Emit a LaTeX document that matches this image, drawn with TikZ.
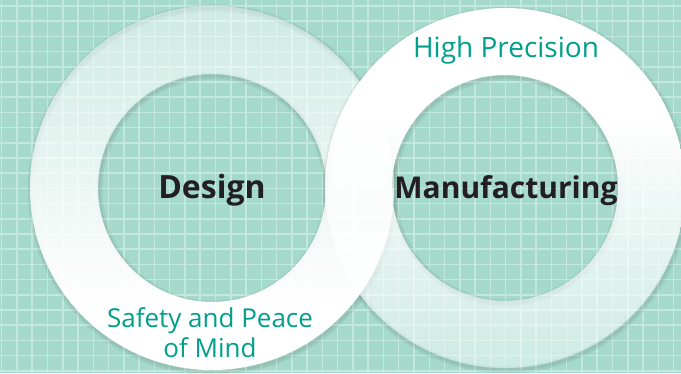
\documentclass[tikz,border=0pt]{standalone}
\usepackage{fontspec}
\setmainfont{Open Sans}

\definecolor{mint}{HTML}{A5DACB}
\definecolor{mintline}{HTML}{C3E9DE}
\definecolor{tealtext}{HTML}{00A08C}
\definecolor{inkdark}{HTML}{231F20}

\begin{document}
\begin{tikzpicture}[x=1pt, y=1pt,
    gridline/.style={mintline, line width=1.5pt},
    ringshadow/.style={black, opacity=0.05, line width=#1},
    title/.style={font=\bfseries\fontsize{#1}{38}\selectfont, text=inkdark, anchor=base},
    tag/.style={font=\fontsize{#1}{30}\selectfont, text=tealtext, align=center, anchor=base}]
    % Background
    \fill[mint] (0,0) rectangle (681,373);
    \useasboundingbox (0,0) rectangle (681,373);
    % Grid
    \foreach \i in {0,...,44} {
        \draw[gridline] ({1.7+15.27*\i},0) -- ++(0,373);
    }
    \foreach \j in {0,...,24} {
        \draw[gridline] (0,{367-15.2*\j}) -- ++(681,0);
    }
    % Ring centres
    \coordinate (L) at (212,185);
    \coordinate (R) at (505,185);
    % Shadows of the left ring
    \foreach \w in {3pt,7pt} {
        \draw[ringshadow=\w] ([shift={(1,-2)}]L) circle (182) ([shift={(1,-2)}]L) circle (114);
    }
    % Left ring, upper half (see-through at the top)
    \begin{scope}[even odd rule]
        \clip (L) circle (182) (L) circle (114);
        \foreach \y in {185,189,...,365} {
            \pgfmathsetmacro\a{min(1,1-0.55*(\y+2-73)/294)}
            \fill[white, opacity=\a] (28,\y) rectangle (396,{\y+4});
        }
    \end{scope}
    % Shadows of the right ring
    \foreach \w in {3pt,7pt} {
        \draw[ringshadow=\w] ([shift={(1,-2)}]R) circle (180) ([shift={(1,-2)}]R) circle (113);
    }
    % Right ring (solid at the top, see-through at the bottom)
    \begin{scope}[even odd rule]
        \clip (R) circle (180) (R) circle (113);
        \foreach \y in {1,5,...,365} {
            \pgfmathsetmacro\a{min(1,0.45+0.55*(\y+2-5)/248)}
            \fill[white, opacity=\a] (323,\y) rectangle (681,{\y+4});
        }
    \end{scope}
    % Left ring, lower half, over the right ring
    \begin{scope}[even odd rule]
        \clip (L) circle (182) (L) circle (114);
        \foreach \y in {1,5,...,181} {
            \pgfmathsetmacro\a{min(1,1-0.55*(\y+2-73)/294)}
            \fill[white, opacity=\a] (28,\y) rectangle (396,{\y+4});
        }
    \end{scope}
    % Labels
    \node[title=32] (design) at (212,175) {Design};
    \node[title=30] (manuf) at (506,175) {Manufacturing};
    \node[tag=28] (precision) at (506,315) {High Precision};
    \node[tag=26] (safety) at (210,16) {Safety and Peace\\of Mind};
\end{tikzpicture}
\end{document}
